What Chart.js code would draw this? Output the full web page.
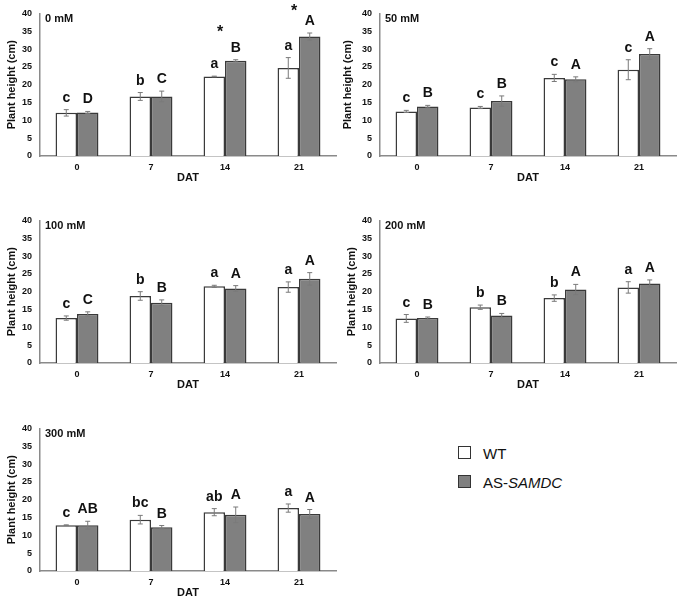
<!DOCTYPE html>
<html><head><meta charset="utf-8">
<script src="https://cdn.jsdelivr.net/npm/chart.js@4.4.1/dist/chart.umd.min.js"></script>
<style>
html,body{margin:0;padding:0;background:#fff;width:680px;height:600px;overflow:hidden;}
canvas{position:absolute;}
.leg{position:absolute;font-family:"Liberation Sans",Arial,sans-serif;font-size:15px;color:#111;line-height:18px;white-space:nowrap;}
.box{position:absolute;width:13px;height:13px;border:1.5px solid #333;box-sizing:border-box;}
</style></head><body>
<canvas id="c0" width="340" height="190" style="left:0px;top:0px"></canvas>
<canvas id="c1" width="340" height="190" style="left:340px;top:0px"></canvas>
<canvas id="c2" width="340" height="190" style="left:0px;top:207px"></canvas>
<canvas id="c3" width="340" height="190" style="left:340px;top:207px"></canvas>
<canvas id="c4" width="340" height="190" style="left:0px;top:415px"></canvas>
<div class="box" style="left:458px;top:446px;background:#fff"></div>
<div class="leg" style="left:483px;top:445px">WT</div>
<div class="box" style="left:458px;top:475px;background:#808080"></div>
<div class="leg" style="left:483px;top:474px">AS-<i>SAMDC</i></div>
<script>
// ---- data ----
const categories = ['0', '7', '14', '21'];
const panelTitles = ['0 mM', '50 mM', '100 mM', '200 mM', '300 mM'];
const seriesNames = ['WT', 'AS-SAMDC'];

const wt0 = [12.1, 16.7, 22.3, 24.7];
const wt0Err = [0.9, 1.1, 0.1, 2.9];
const as0 = [12.2, 16.7, 26.7, 33.5];
const as0Err = [0.3, 1.5, 0.3, 1.0];
const wt0Letters = ['c', 'b', 'a', 'a'];
const as0Letters = ['D', 'C', 'B', 'A'];
const stars0 = ['', '', '*', '*'];

const wt50 = [12.5, 13.6, 21.9, 24.2];
const wt50Err = [0.3, 0.3, 1.0, 2.8];
const as50 = [13.85, 15.4, 21.5, 28.6];
const as50Err = [0.35, 1.45, 0.7, 1.5];
const wt50Letters = ['c', 'c', 'c', 'c'];
const as50Letters = ['B', 'B', 'A', 'A'];
const stars50 = ['', '', '', ''];

const wt100 = [12.6, 18.8, 21.5, 21.3];
const wt100Err = [0.6, 1.2, 0.3, 1.45];
const as100 = [13.75, 16.9, 20.9, 23.6];
const as100Err = [0.6, 0.8, 0.8, 1.75];
const wt100Letters = ['c', 'b', 'a', 'a'];
const as100Letters = ['C', 'B', 'A', 'A'];
const stars100 = ['', '', '', ''];

const wt200 = [12.5, 15.65, 18.2, 21.2];
const wt200Err = [1.1, 0.6, 0.9, 1.6];
const as200 = [12.6, 13.3, 20.6, 22.3];
const as200Err = [0.3, 0.6, 1.45, 1.0];
const wt200Letters = ['c', 'b', 'b', 'a'];
const as200Letters = ['B', 'B', 'A', 'A'];
const stars200 = ['', '', '', ''];

const wt300 = [12.85, 14.4, 16.5, 17.65];
const wt300Err = [0.1, 1.2, 1.0, 1.15];
const as300 = [12.85, 12.3, 15.75, 16.0];
const as300Err = [1.1, 0.45, 2.2, 1.25];
const wt300Letters = ['c', 'bc', 'ab', 'a'];
const as300Letters = ['AB', 'B', 'A', 'A'];
const stars300 = ['', '', '', ''];

const yTicksMin = 0, yTicksMax = 40, yTickStep = 5;

// ---- drawing ----
const FONT = '"Liberation Sans", Arial, sans-serif';
const annotPlugin = {
  id: 'annot',
  afterDatasetsDraw(chart) {
    const ctx = chart.ctx, ys = chart.scales.y, xs = chart.scales.x;
    const topLetter = [];
    ctx.save();
    chart.data.datasets.forEach((ds, i) => {
      const meta = chart.getDatasetMeta(i);
      meta.data.forEach((bar, j) => {
        const v = ds.data[j], e = ds.errors[j];
        const yHi = ys.getPixelForValue(v + e), yLo = ys.getPixelForValue(v - e);
        ctx.strokeStyle = '#7a7a7a';
        ctx.lineWidth = 1;
        ctx.beginPath();
        ctx.moveTo(bar.x, yHi); ctx.lineTo(bar.x, yLo);
        ctx.moveTo(bar.x - 2.5, yHi); ctx.lineTo(bar.x + 2.5, yHi);
        ctx.moveTo(bar.x - 2.5, yLo); ctx.lineTo(bar.x + 2.5, yLo);
        ctx.stroke();
        ctx.fillStyle = '#111';
        ctx.font = 'bold 14px ' + FONT;
        ctx.textAlign = 'center';
        ctx.textBaseline = 'alphabetic';
        const base = yHi - 8;
        ctx.fillText(ds.letters[j], bar.x, base);
        const c = base - 5;
        topLetter[j] = topLetter[j] === undefined ? c : Math.min(topLetter[j], c);
      });
    });
    const marks = chart.data.datasets[1].marks;
    marks.forEach((m, j) => {
      if (!m) return;
      const cy = Math.max(7, topLetter[j] - 19);
      ctx.font = 'bold 16px ' + FONT;
      ctx.textAlign = 'center';
      ctx.textBaseline = 'alphabetic';
      ctx.fillText(m, xs.getPixelForValue(j) - 5, cy + 9);
    });
    ctx.font = 'bold 11px ' + FONT;
    ctx.textAlign = 'left';
    ctx.textBaseline = 'middle';
    ctx.fillText(chart.data.datasets[1].panelTitle, chart.chartArea.left + 5, chart.chartArea.top + 6);
    ctx.restore();
  }
};

function makeChart(id, title, wt, wtErr, wtL, as, asErr, asL, marks, titlePad) {
  return new Chart(document.getElementById(id), {
    type: 'bar',
    data: {
      labels: categories,
      datasets: [
        { label: seriesNames[0], data: wt, errors: wtErr, letters: wtL,
          backgroundColor: '#ffffff', borderColor: '#3a3a3a', borderWidth: 1.5,
          categoryPercentage: 0.58, barPercentage: 1.0 },
        { label: seriesNames[1], data: as, errors: asErr, letters: asL, marks: marks, panelTitle: title,
          backgroundColor: '#808080', borderColor: '#3a3a3a', borderWidth: 1.5,
          categoryPercentage: 0.58, barPercentage: 1.0 }
      ]
    },
    options: {
      responsive: false, animation: false,
      layout: { padding: { top: 9, left: 0, right: 4, bottom: 0 } },
      plugins: { legend: { display: false }, tooltip: { enabled: false } },
      scales: {
        x: {
          grid: { display: false, drawTicks: false },
          border: { display: true, color: '#8a8a8a', width: 1.5 },
          ticks: { color: '#111', padding: 6, font: { family: FONT, size: 9, weight: 'bold' } },
          title: { display: true, text: 'DAT', color: '#111', padding: { top: 0, bottom: 5 },
                   font: { family: FONT, size: 11, weight: 'bold' } },
          afterFit(s) { s.height = 34; }
        },
        y: {
          min: yTicksMin, max: yTicksMax,
          grid: { display: false, drawTicks: false },
          border: { display: true, color: '#8a8a8a', width: 1.5 },
          ticks: { stepSize: yTickStep, color: '#111', padding: 8, font: { family: FONT, size: 9, weight: 'bold' } },
          title: { display: true, text: 'Plant height (cm)', color: '#111', padding: { top: titlePad, bottom: 0 },
                   font: { family: FONT, size: 11, weight: 'bold' } },
          afterFit(s) { s.width = 40; }
        }
      }
    },
    plugins: [annotPlugin]
  });
}

makeChart('c0', panelTitles[0], wt0, wt0Err, wt0Letters, as0, as0Err, as0Letters, stars0, 5);
makeChart('c1', panelTitles[1], wt50, wt50Err, wt50Letters, as50, as50Err, as50Letters, stars50, 1.5);
makeChart('c2', panelTitles[2], wt100, wt100Err, wt100Letters, as100, as100Err, as100Letters, stars100, 5);
makeChart('c3', panelTitles[3], wt200, wt200Err, wt200Letters, as200, as200Err, as200Letters, stars200, 5);
makeChart('c4', panelTitles[4], wt300, wt300Err, wt300Letters, as300, as300Err, as300Letters, stars300, 5);
</script>
</body></html>
